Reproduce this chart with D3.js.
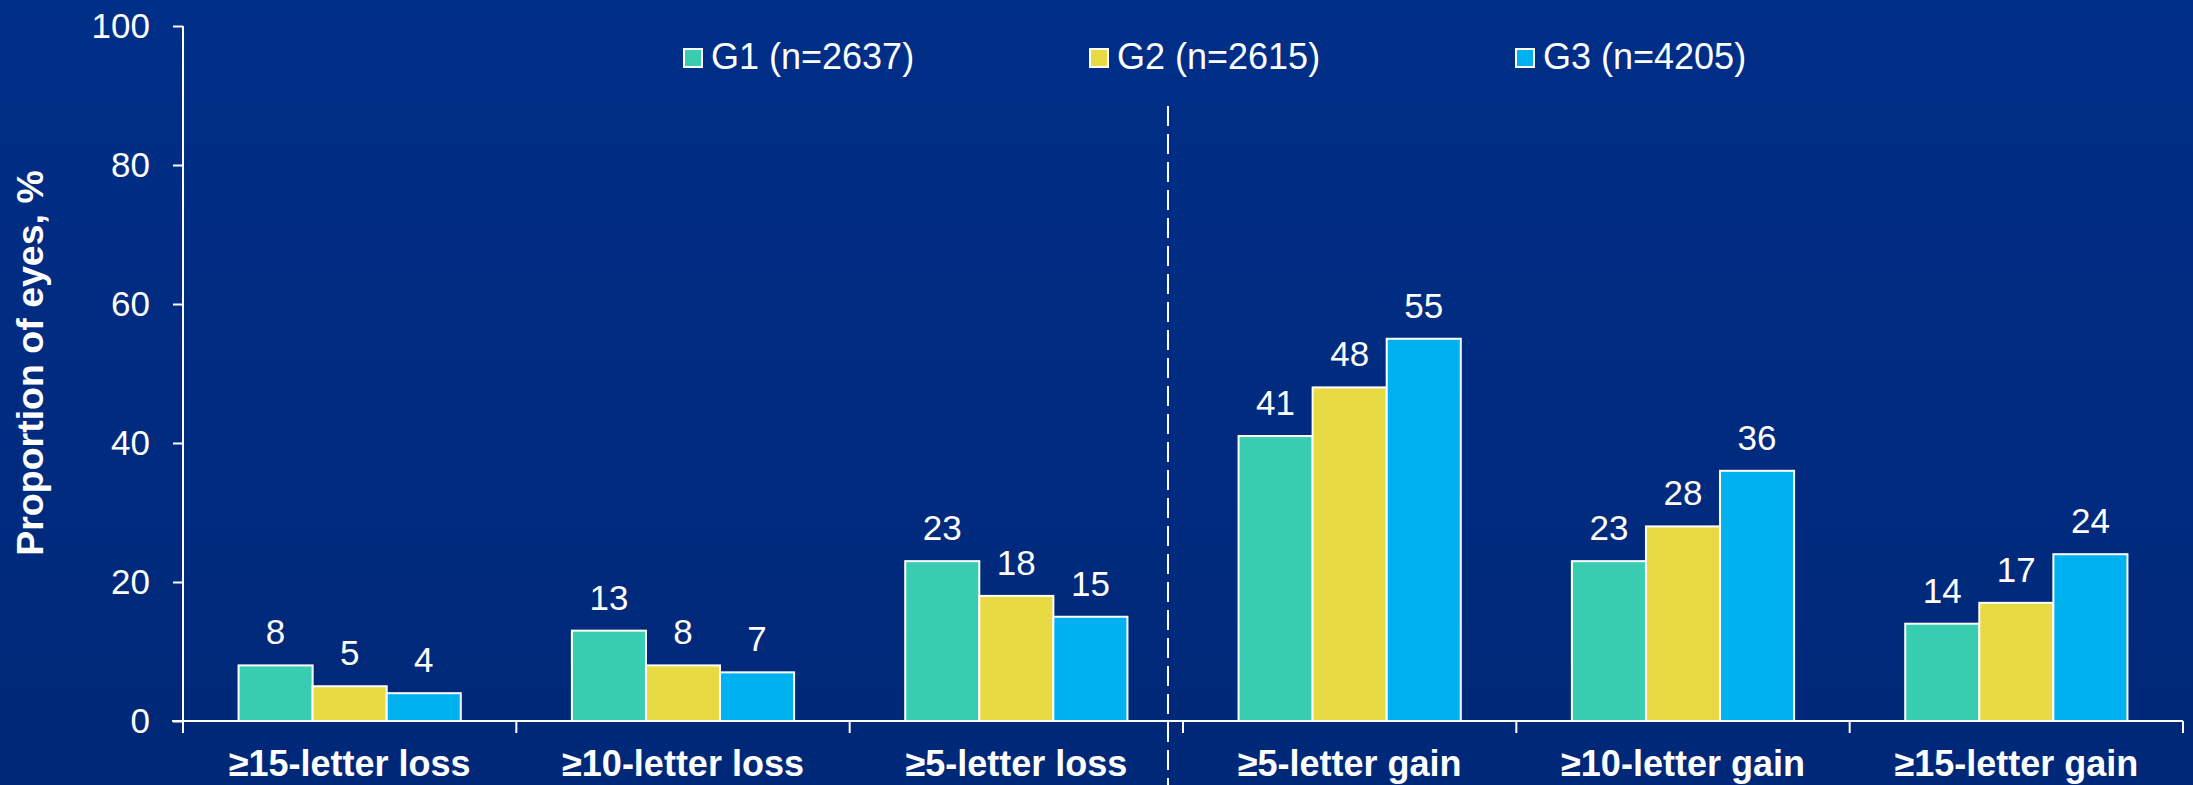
<!DOCTYPE html>
<html>
<head>
<meta charset="utf-8">
<script src="https://cdn.jsdelivr.net/npm/d3@7/dist/d3.min.js"></script>
<style>
  html, body { margin: 0; padding: 0; background: #002c84; }
  svg { display: block; }
  text { font-family: "Liberation Sans", Arial, sans-serif; fill: #ffffff; }
</style>
</head>
<body>
<svg id="chart" width="2193" height="785"></svg>
<script>
// ---- data ----
const categories = ["≥15-letter loss", "≥10-letter loss", "≥5-letter loss", "≥5-letter gain", "≥10-letter gain", "≥15-letter gain"];
const seriesNames = ["G1 (n=2637)", "G2 (n=2615)", "G3 (n=4205)"];
const g1Values = [8, 13, 23, 41, 23, 14];
const g2Values = [5, 8, 18, 48, 28, 17];
const g3Values = [4, 7, 15, 55, 36, 24];
const yTickValues = [0, 20, 40, 60, 80, 100];
const yTitle = "Proportion of eyes, %";

const seriesColors = ["#38cdb1", "#e7da42", "#00b1f0"];
const seriesValues = [g1Values, g2Values, g3Values];

const W = 2193, H = 785;
const svg = d3.select("#chart");

// background
const defs = svg.append("defs");
const grad = defs.append("linearGradient").attr("id", "bg").attr("x1", 0).attr("y1", 0).attr("x2", 0).attr("y2", 1);
grad.append("stop").attr("offset", "0%").attr("stop-color", "#002f88");
grad.append("stop").attr("offset", "100%").attr("stop-color", "#002878");
svg.append("rect").attr("width", W).attr("height", H).attr("fill", "url(#bg)");

// scales
const x = d3.scaleBand().domain(categories).range([183, 2183]).paddingInner(0).paddingOuter(0);
const xs = d3.scaleBand().domain(seriesNames).range([0, x.bandwidth()]).paddingInner(0).paddingOuter(0.75);
const y = d3.scaleLinear().domain([0, 100]).range([721, 26]);

// y axis ticks + labels
const yAxis = d3.axisLeft(y).tickValues(yTickValues).tickSize(10).tickPadding(23).tickSizeOuter(0);
const yg = svg.append("g").attr("transform", "translate(183,0)").call(yAxis);
yg.select(".domain").remove();
yg.selectAll(".tick line").attr("stroke", "#fff").attr("stroke-width", 2);
yg.selectAll(".tick text").attr("fill", "#fff").style("font-size", "35px").style("font-family", "'Liberation Sans', Arial, sans-serif");

// axis lines
svg.append("line").attr("x1", 183).attr("x2", 183).attr("y1", y(100)).attr("y2", y(0) + 12)
  .attr("stroke", "#fff").attr("stroke-width", 2);
svg.append("line").attr("x1", 172).attr("x2", x.range()[1]).attr("y1", y(0)).attr("y2", y(0))
  .attr("stroke", "#fff").attr("stroke-width", 2);

// category boundary ticks
const bounds = categories.map(c => x(c)).concat([x.range()[1]]);
svg.append("g").selectAll("line").data(bounds).join("line")
  .attr("x1", d => d).attr("x2", d => d)
  .attr("y1", y(0)).attr("y2", y(0) + 12)
  .attr("stroke", "#fff").attr("stroke-width", 2);

// x axis labels
const xAxis = d3.axisBottom(x).tickSize(0).tickPadding(29);
const xg = svg.append("g").attr("transform", `translate(0,${y(0)})`).call(xAxis);
xg.select(".domain").remove();
xg.selectAll(".tick text").attr("fill", "#fff").style("font-size", "36px").style("font-weight", "bold")
  .style("font-family", "'Liberation Sans', Arial, sans-serif");

// divider dashed line
const divX = x(categories[3]) - 15;
svg.append("line").attr("x1", divX).attr("x2", divX).attr("y1", 106).attr("y2", H)
  .attr("stroke", "#fff").attr("stroke-width", 2).attr("stroke-dasharray", "20,8");

// bars
const groups = svg.append("g").selectAll("g").data(categories).join("g")
  .attr("transform", d => `translate(${x(d)},0)`);

seriesNames.forEach((s, si) => {
  groups.append("rect")
    .attr("x", xs(s))
    .attr("width", xs.bandwidth())
    .attr("y", (d, i) => y(seriesValues[si][i]))
    .attr("height", (d, i) => y(0) - y(seriesValues[si][i]))
    .attr("fill", seriesColors[si])
    .attr("stroke", "#fff").attr("stroke-width", 2);
  groups.append("text")
    .attr("x", xs(s) + xs.bandwidth() / 2)
    .attr("y", (d, i) => y(seriesValues[si][i]) - 21)
    .attr("text-anchor", "middle")
    .style("font-size", "35px")
    .text((d, i) => seriesValues[si][i]);
});

// y title
svg.append("text")
  .attr("transform", `translate(43,363) rotate(-90)`)
  .attr("text-anchor", "middle")
  .style("font-size", "37.5px").style("font-weight", "bold")
  .text(yTitle);

// legend
const legendX = [683, 1089, 1515];
const lg = svg.append("g").selectAll("g").data(seriesNames).join("g")
  .attr("transform", (d, i) => `translate(${legendX[i]},48)`);
lg.append("rect").attr("x", 1).attr("y", 1).attr("width", 18).attr("height", 18)
  .attr("fill", (d, i) => seriesColors[i]).attr("stroke", "#fff").attr("stroke-width", 2);
lg.append("text").attr("x", 28).attr("y", 21).style("font-size", "36px").text(d => d);
</script>
</body>
</html>
